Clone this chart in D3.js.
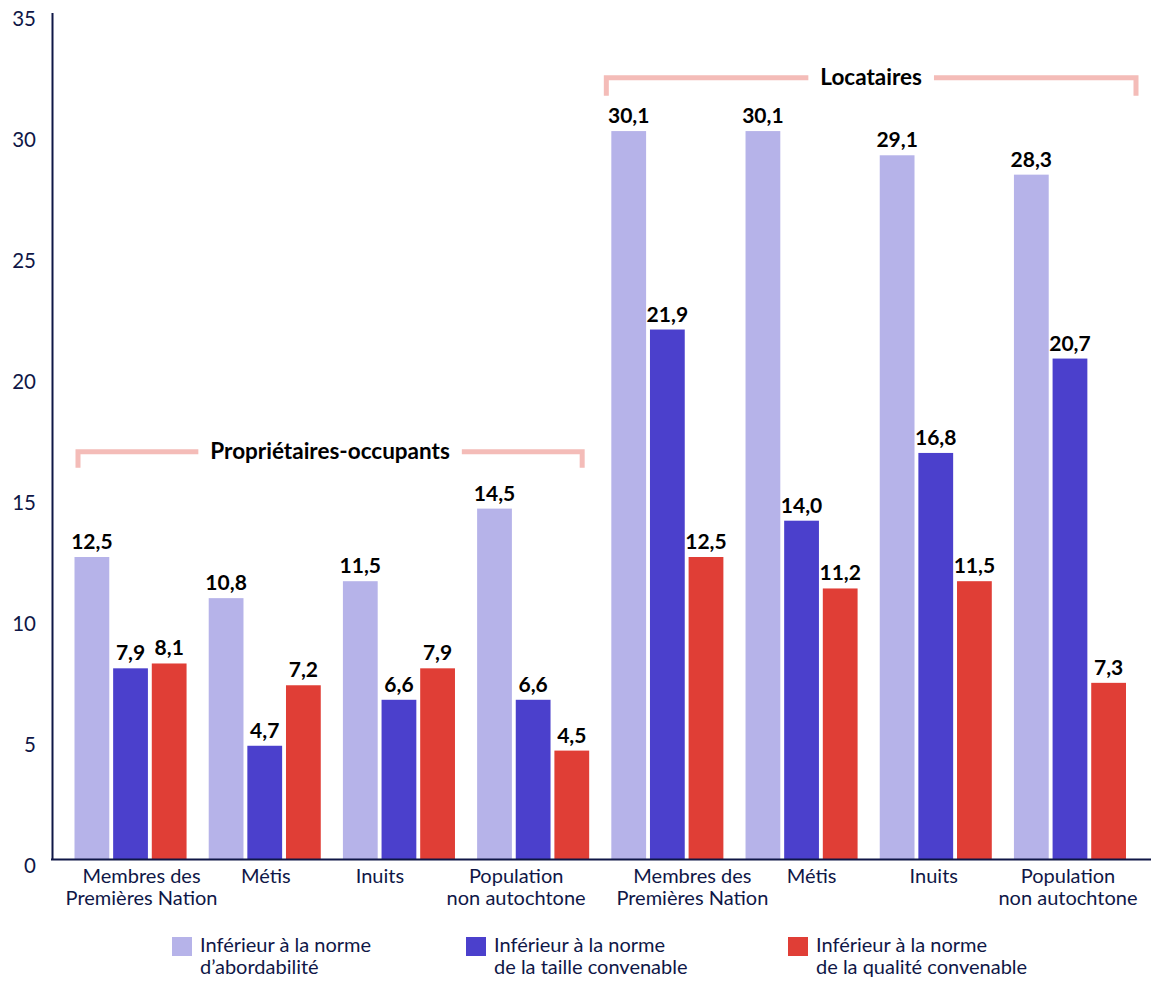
<!DOCTYPE html>
<html><head><meta charset="utf-8">
<script src="https://cdn.jsdelivr.net/npm/d3@7/dist/d3.min.js"></script>
<style>
html,body{margin:0;padding:0;background:#fff;}
svg{display:block;font-family:Lato,"Open Sans",sans-serif;}
</style></head>
<body>
<svg id="chart" width="1151" height="983"></svg>
<script>
// ---- data ----
const categories = [
  ["Membres des","Premières Nation"],["Métis"],["Inuits"],["Population","non autochtone"],
  ["Membres des","Premières Nation"],["Métis"],["Inuits"],["Population","non autochtone"]
];
const affordability = [12.5, 10.8, 11.5, 14.5, 30.1, 30.1, 29.1, 28.3];
const suitability   = [7.9, 4.7, 6.6, 6.6, 21.9, 14.0, 16.8, 20.7];
const adequacy      = [8.1, 7.2, 7.9, 4.5, 12.5, 11.2, 11.5, 7.3];
const seriesNames = [
  ["Inférieur à la norme","d’abordabilité"],
  ["Inférieur à la norme","de la taille convenable"],
  ["Inférieur à la norme","de la qualité convenable"]
];
const yTicks = [0,5,10,15,20,25,30,35];
const groupLabels = ["Propriétaires-occupants","Locataires"];
const groupRanges = [[0,3],[4,7]];

// ---- layout / style ----
const colors = ["#b6b3e9","#4b40cc","#e03e36"];
const navy = "#0f1747";
const bracketColor = "#f4bcb8";
const groupLevels = [16.85, 32.3];          // y level of each bracket (axis units)
const labelNudge = [11, 1, -19, -17, 25, 10, -2, -2]; // hand-placed category label offsets
const series = [affordability, suitability, adequacy];

const svg = d3.select("#chart");
const y = d3.scaleLinear().domain([0,35]).range([859.5,12.5]);
const x0 = d3.scaleBand().domain(d3.range(categories.length)).range([74.5,1126]).paddingInner(0.165).paddingOuter(0);
const x1 = d3.scaleBand().domain(d3.range(3)).range([0,x0.bandwidth()]).paddingInner(0.1);

// bars
const g = svg.append("g");
categories.forEach((c,i)=>{
  const gg = g.append("g").attr("transform",`translate(${x0(i)},0)`);
  series.forEach((s,k)=>{
    gg.append("rect").attr("x",x1(k)).attr("width",x1.bandwidth())
      .attr("y",y(s[i])).attr("height",y(0)-y(s[i])).attr("fill",colors[k]);
    gg.append("text").attr("x",x1(k)+x1.bandwidth()/2).attr("y",y(s[i])-8)
      .attr("text-anchor","middle").attr("font-weight","bold").attr("font-size",21)
      .attr("fill","#000").text(d3.format(".1f")(s[i]).replace(".",","));
  });
});

// y axis
const ya = svg.append("g").attr("transform","translate(52,0)")
  .call(d3.axisLeft(y).tickValues(yTicks).tickSize(0).tickPadding(16).tickFormat(d3.format("d")));
ya.select(".domain").attr("stroke",navy).attr("stroke-width",2);
ya.selectAll("text").attr("font-size",20.5).attr("fill",navy).attr("dy","0.62em").style("font-family","Lato");

// x baseline
svg.append("line").attr("x1",51).attr("x2",1151).attr("y1",y(0)).attr("y2",y(0))
  .attr("stroke",navy).attr("stroke-width",2);

// x axis labels
const xa = svg.append("g").attr("transform",`translate(0,${y(0)})`)
  .call(d3.axisBottom(x0).tickSize(0).tickFormat(()=>""));
xa.select(".domain").remove();
xa.selectAll(".tick").each(function(d){
  const t = d3.select(this).select("text").attr("y",0).attr("dy",null)
    .attr("font-size",20).attr("fill",navy).style("font-family","Lato");
  categories[d].forEach((line,li)=>{
    t.append("tspan").attr("x",labelNudge[d]).attr("y",23+li*22).text(line);
  });
});

// group brackets
groupLabels.forEach((lab,i)=>{
  const [a,b] = groupRanges[i];
  const left = i===0 ? x0(a)+3.5 : x0(a)-5;
  const right = i===0 ? x0(b)+x0.bandwidth()-7 : x0(b)+x0.bandwidth()+10;
  const yy = y(groupLevels[i]);
  const mid = (left+right)/2;
  const txt = svg.append("text").attr("x",mid).attr("y",yy+7).attr("text-anchor","middle")
    .attr("font-weight","bold").attr("font-size",22.5).attr("fill","#000").text(lab);
  const w = txt.node().getComputedTextLength();
  const drop = i===0 ? 16 : 18;
  svg.append("path").attr("fill","none").attr("stroke",bracketColor).attr("stroke-width",5)
    .attr("d",`M${left},${yy+drop}V${yy}H${mid-w/2-12}`);
  svg.append("path").attr("fill","none").attr("stroke",bracketColor).attr("stroke-width",5)
    .attr("d",`M${mid+w/2+12},${yy}H${right}V${yy+drop}`);
});

// legend
const legendX = [172, 466, 788];
seriesNames.forEach((nm,k)=>{
  const lg = svg.append("g").attr("transform",`translate(${legendX[k]},937)`);
  lg.append("rect").attr("width",20).attr("height",19).attr("fill",colors[k]);
  nm.forEach((line,li)=>lg.append("text").attr("font-size",20).attr("fill",navy)
    .attr("x",28).attr("y",15+li*22).text(line));
});
</script>
</body></html>
